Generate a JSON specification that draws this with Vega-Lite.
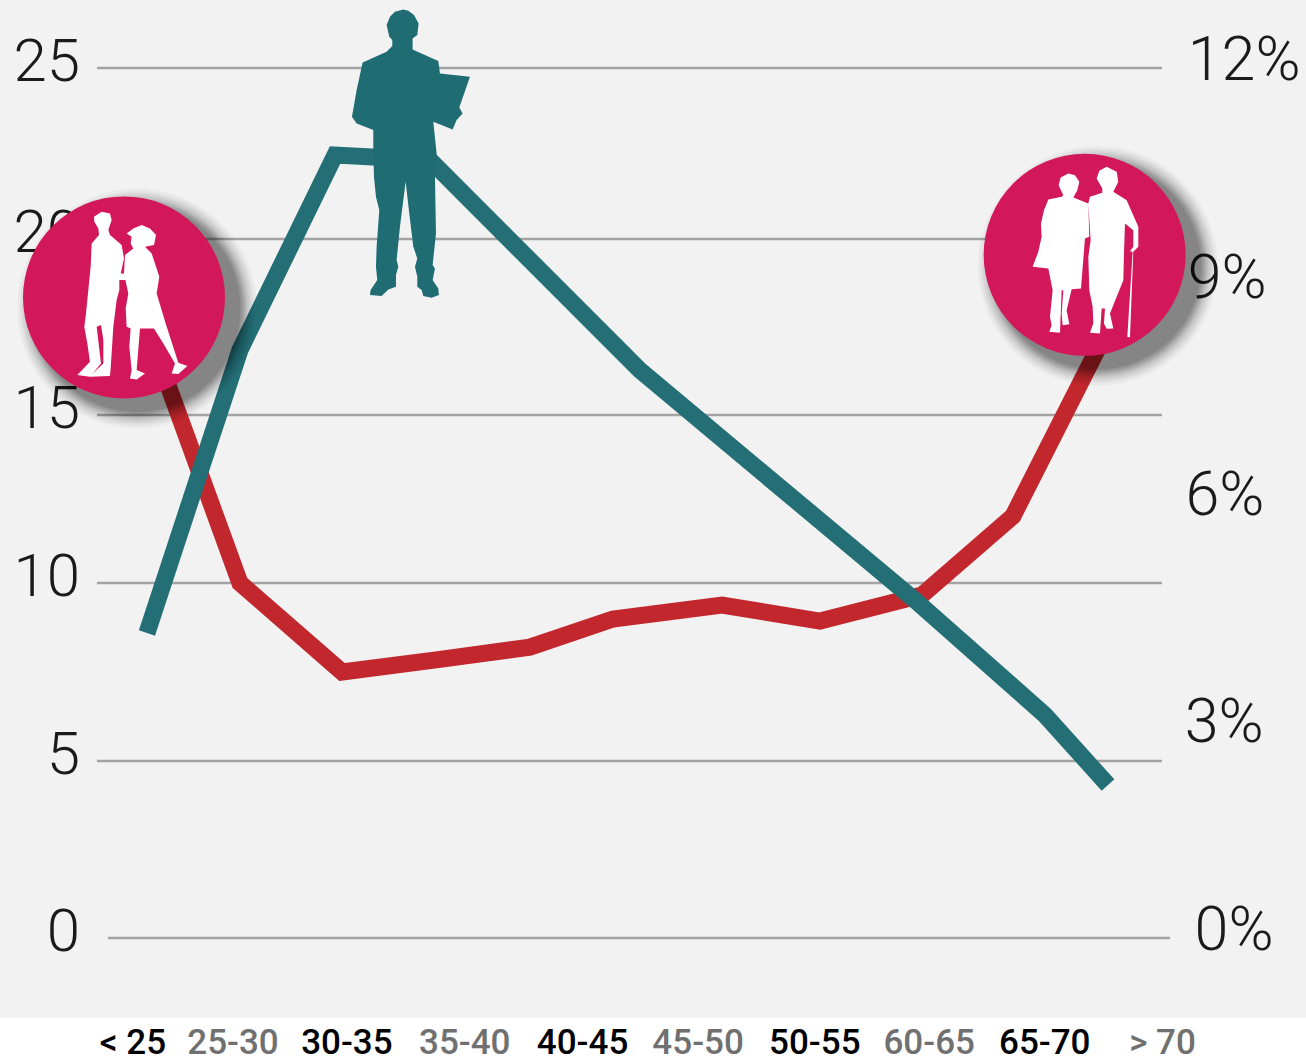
{
"$schema":"https://vega.github.io/schema/vega-lite/v6.json",
"width":1306,"height":1062,"padding":0,"autosize":{"type":"none"},"background":"#ffffff",
"config":{"view":{"stroke":null}},
"datasets":{
"panel":[{"left":-1.1626,"right":10.254,"top":27,"bottom":-2.26}],
"grid":[{"value":25,"left":-0.315,"right":8.995},{"value":20,"left":-0.315,"right":8.995},{"value":15,"left":-0.315,"right":8.995},{"value":10,"left":-0.315,"right":8.995},{"value":5,"left":-0.315,"right":8.995},{"value":0,"left":-0.219,"right":9.065}],
"leftLabels":[{"value":25,"label":"25"},{"value":20,"label":"20"},{"value":15,"label":"15"},{"value":10,"label":"10"},{"value":5,"label":"5"},{"value":0,"label":"0"}],
"rightLabels":[{"pos":9.22,"pct":12,"label":"12%"},{"pos":9.22,"pct":9,"label":"9%"},{"pos":9.2,"pct":6,"label":"6%"},{"pos":9.193,"pct":2.87,"label":"3%"},{"pos":9.28,"pct":0,"label":"0%"}],
"red":[{"pos":0.131,"value":17.41},{"pos":0.935,"value":10},{"pos":1.827,"value":7.5},{"pos":2.65,"value":7.84},{"pos":3.47,"value":8.2},{"pos":4.196,"value":8.99},{"pos":5.149,"value":9.38},{"pos":6.005,"value":8.93},{"pos":6.897,"value":9.66},{"pos":7.692,"value":11.99},{"pos":8.628,"value":18.125}],
"teal":[{"pos":0.122,"pct":4.207},{"pos":0.935,"pct":8.11},{"pos":1.766,"pct":10.8},{"pos":2.596,"pct":10.73},{"pos":4.432,"pct":7.83},{"pos":6.836,"pct":4.66},{"pos":7.972,"pct":3.076},{"pos":8.523,"pct":2.11}],
"circles":[{"pos":-0.0787,"value":18.34,"who":"young"},{"pos":8.319,"value":19.55,"who":"old"}],
"adult":[{"pos":2.392,"value":22.6,"who":"adult"}],
"ageDark":[{"pos":0,"value":-2.95,"label":"< 25"},{"pos":1.87,"value":-2.95,"label":"30-35"},{"pos":3.93,"value":-2.95,"label":"40-45"},{"pos":5.96,"value":-2.95,"label":"50-55"},{"pos":7.97,"value":-2.95,"label":"65-70"}],
"ageLight":[{"pos":0.874,"value":-2.95,"label":"25-30"},{"pos":2.9,"value":-2.95,"label":"35-40"},{"pos":4.94,"value":-2.95,"label":"45-50"},{"pos":6.96,"value":-2.95,"label":"60-65"},{"pos":9,"value":-2.95,"label":"> 70"}]
},
"encoding":{
"x":{"field":"pos","type":"quantitative","scale":{"domain":[-1.1626,10.254]},"axis":null},
"y":{"field":"value","type":"quantitative","scale":{"domain":[-3.5,0,5,10,15,20,25,27],"range":[1062,938,761,583,415,239,68,0]},"axis":null}
},
"resolve":{"scale":{"y":"independent"}},
"layer":[
{"data":{"name":"panel"},"mark":{"type":"rect","fill":"#f2f2f2"},"encoding":{"x":{"field":"left","type":"quantitative"},"x2":{"field":"right"},"y":{"field":"top","type":"quantitative"},"y2":{"field":"bottom"}}},
{"data":{"name":"grid"},"mark":{"type":"rule","stroke":"#a3a3a3","strokeWidth":2.5},"encoding":{"x":{"field":"left","type":"quantitative"},"x2":{"field":"right"}}},
{"data":{"name":"leftLabels"},"mark":{"type":"text","font":"Roboto","fontWeight":300,"fontSize":60,"align":"right","baseline":"middle","yOffset":-5,"fill":"#1a1a1a"},"encoding":{"x":{"value":80},"text":{"field":"label"}}},
{"data":{"name":"rightLabels"},"mark":{"type":"text","font":"Roboto","fontWeight":300,"fontSize":61,"align":"left","baseline":"middle","yOffset":-6,"fill":"#1a1a1a"},"encoding":{"y":{"field":"pct","type":"quantitative","scale":{"domain":[-1.71,12.938],"range":[1062,0]},"axis":null},"text":{"field":"label"}}},
{"data":{"name":"red"},"mark":{"type":"line","stroke":"#c1272d","strokeWidth":17,"strokeJoin":"miter","strokeCap":"butt"}},
{"data":{"name":"teal"},"mark":{"type":"line","stroke":"#246f76","strokeWidth":17,"strokeJoin":"miter","strokeCap":"butt"},"encoding":{"y":{"field":"pct","type":"quantitative","scale":{"domain":[-1.71,12.938],"range":[1062,0]},"axis":null}}},
{"data":{"name":"circles"},"mark":{"type":"point","filled":true,"shape":"circle","fill":"#000000","opacity":0.03,"strokeWidth":0,"size":57500,"xOffset":13,"yOffset":11}},
{"data":{"name":"circles"},"mark":{"type":"point","filled":true,"shape":"circle","fill":"#000000","opacity":0.04,"strokeWidth":0,"size":55000,"xOffset":13,"yOffset":11}},
{"data":{"name":"circles"},"mark":{"type":"point","filled":true,"shape":"circle","fill":"#000000","opacity":0.05,"strokeWidth":0,"size":52800,"xOffset":13,"yOffset":11}},
{"data":{"name":"circles"},"mark":{"type":"point","filled":true,"shape":"circle","fill":"#000000","opacity":0.06,"strokeWidth":0,"size":50600,"xOffset":13,"yOffset":11}},
{"data":{"name":"circles"},"mark":{"type":"point","filled":true,"shape":"circle","fill":"#000000","opacity":0.08,"strokeWidth":0,"size":48400,"xOffset":13,"yOffset":11}},
{"data":{"name":"circles"},"mark":{"type":"point","filled":true,"shape":"circle","fill":"#000000","opacity":0.09,"strokeWidth":0,"size":46700,"xOffset":13,"yOffset":11}},
{"data":{"name":"circles"},"mark":{"type":"point","filled":true,"shape":"circle","fill":"#000000","opacity":0.1,"strokeWidth":0,"size":44900,"xOffset":13,"yOffset":11}},
{"data":{"name":"circles"},"mark":{"type":"point","filled":true,"shape":"circle","fill":"#000000","opacity":0.1,"strokeWidth":0,"size":43000,"xOffset":13,"yOffset":11}},
{"data":{"name":"circles"},"mark":{"type":"point","filled":true,"shape":"circle","fill":"#d3175b","opacity":1,"strokeWidth":0,"size":40804}},
{"data":{"name":"circles"},"transform":[{"filter":"datum.who==='young'"}],"mark":{"type":"point","filled":true,"fill":"#ffffff","opacity":1,"strokeWidth":0,"size":0.4444,"shape":"M-67,-257L-90,-242L-89,-227L-77,-207L-75,-187L-97,-162L-100,-92L-107,-22L-114,48L-119,88L-110,138L-102,193L-140,233L-102,238L-69,198L-82,88L-69,83L-62,128L-62,198L-104,238L-42,236L-40,213L-32,88L-22,8L-14,-22L-14,-52L0,-117L-7,-157L-42,-187L-47,-202L-37,-232L-42,-252ZM53,-217L28,-207L8,-192L23,-182L20,-162L28,-147L3,-127L0,-72L13,-12L5,33L8,88L20,93L16,148L23,218L18,243L38,246L63,228L38,218L48,93L90,93L118,138L153,198L143,228L163,230L190,206L163,196L125,78L98,-12L106,-62L83,-132L63,-152L90,-157L96,-187L78,-207ZM-14,-72L-14,-52L13,-52L13,-72Z"}},
{"data":{"name":"circles"},"transform":[{"filter":"datum.who==='old'"}],"mark":{"type":"point","filled":true,"fill":"#ffffff","opacity":1,"strokeWidth":0,"size":0.4444,"shape":"M-49,-244L-72,-232L-78,-209L-64,-179L-69,-174L-109,-166L-122,-134L-131,-94L-129,-54L-139,-9L-156,36L-109,41L-96,106L-104,186L-99,211L-106,231L-74,234L-72,186L-69,106L-64,106L-69,176L-66,211L-46,208L-54,166L-39,103L-11,101L1,-49L14,-54L11,-154L-34,-172L-22,-194L-16,-219L-29,-239ZM66,-264L44,-252L36,-229L53,-199L53,-186L16,-174L11,-154L18,-44L11,6L14,106L24,156L26,206L16,234L46,236L51,161L61,161L58,206L66,222L86,221L76,176L116,76L118,-4L121,-94L146,-74L146,-24L136,-11L144,-9L128,246L136,248L146,-9L161,-24L161,-84L126,-164L86,-189L101,-219L96,-249Z"}},
{"data":{"name":"adult"},"mark":{"type":"point","filled":true,"fill":"#206c73","opacity":1,"strokeWidth":0,"size":0.4444,"shape":"M-10,-422L-35,-415L-50,-400L-60,-375L-52,-340L-43,-330L-43,-312L-60,-295L-132,-263L-150,-180L-164,-100L-150,-80L-100,-60L-100,0L-98,80L-92,140L-82,180L-90,290L-92,350L-88,390L-108,420L-110,435L-75,438L-55,418L-32,410L-32,375L-25,350L-30,330L-20,230L-3,95L8,190L20,290L32,325L25,350L32,380L32,410L45,420L50,438L75,443L97,435L95,415L78,390L85,355L78,345L88,250L85,80L90,10L80,-85L138,-62L150,-90L168,-110L158,-128L190,-220L100,-230L95,-267L18,-302L18,-335L32,-345L36,-380L22,-405L5,-418Z"}},
{"data":{"name":"ageDark"},"mark":{"type":"text","font":"Roboto","fontWeight":500,"fontSize":35,"align":"center","baseline":"middle","fill":"#000000"},"encoding":{"text":{"field":"label"}}},
{"data":{"name":"ageLight"},"mark":{"type":"text","font":"Roboto","fontWeight":500,"fontSize":35,"align":"center","baseline":"middle","fill":"#707070"},"encoding":{"text":{"field":"label"}}}
]
}
